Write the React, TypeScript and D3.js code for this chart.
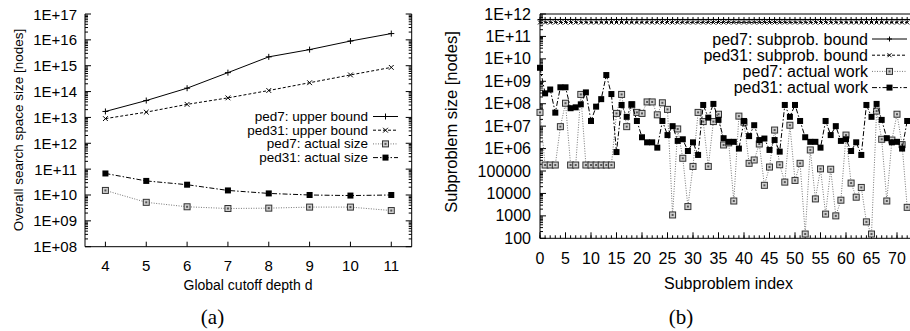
import React from "react";
import * as d3 from "d3";

// ---------- Chart (a) data ----------
const depths = [4, 5, 6, 7, 8, 9, 10, 11];
const ped7Upper = [1.7e13, 4.5e13, 1.35e14, 5.4e14, 2.2e15, 4.2e15, 9e15, 1.75e16];
const ped31Upper = [9e12, 1.6e13, 3.2e13, 5.7e13, 1.1e14, 2.2e14, 4.4e14, 8.6e14];
const ped7Actual = [1.5e10, 5.2e9, 3.5e9, 3.0e9, 3.1e9, 3.4e9, 3.4e9, 2.5e9];
const ped31Actual = [6.8e10, 3.5e10, 2.5e10, 1.5e10, 1.15e10, 1.0e10, 9.5e9, 1.0e10];
const leftYTicks = [1e8, 1e9, 1e10, 1e11, 1e12, 1e13, 1e14, 1e15, 1e16, 1e17];
const leftYLabels = ["1E+08", "1E+09", "1E+10", "1E+11", "1E+12", "1E+13", "1E+14", "1E+15", "1E+16", "1E+17"];

// ---------- Chart (b) data ----------
const ped7Bound = [
  5.7e11, 5.7e11, 5.7e11, 5.7e11, 5.7e11, 5.7e11, 5.7e11, 5.7e11, 5.7e11, 5.7e11,
  5.7e11, 5.7e11, 5.7e11, 5.7e11, 5.7e11, 5.7e11, 5.7e11, 5.7e11, 5.7e11, 5.7e11,
  5.7e11, 5.7e11, 5.7e11, 5.7e11, 5.7e11, 5.7e11, 5.7e11, 5.7e11, 5.7e11, 5.7e11,
  5.7e11, 5.7e11, 5.7e11, 5.7e11, 5.7e11, 5.7e11, 5.7e11, 5.7e11, 5.7e11, 5.7e11,
  5.7e11, 5.7e11, 5.7e11, 5.7e11, 5.7e11, 5.7e11, 5.7e11, 5.7e11, 5.7e11, 5.7e11,
  5.7e11, 5.7e11, 5.7e11, 5.7e11, 5.7e11, 5.7e11, 5.7e11, 5.7e11, 5.7e11, 5.7e11,
  5.7e11, 5.7e11, 5.7e11, 5.7e11, 5.7e11, 5.7e11, 5.7e11, 5.7e11, 5.7e11, 5.7e11,
  5.7e11, 5.7e11, 5.7e11, 5.7e11,
];
const ped31Bound = [
  4.2e11, 4.2e11, 4.2e11, 4.2e11, 4.2e11, 4.2e11, 4.2e11, 4.2e11, 4.2e11, 4.2e11,
  4.2e11, 4.2e11, 4.2e11, 4.2e11, 4.2e11, 4.2e11, 4.2e11, 4.2e11, 4.2e11, 4.2e11,
  4.2e11, 4.2e11, 4.2e11, 4.2e11, 4.2e11, 4.2e11, 4.2e11, 4.2e11, 4.2e11, 4.2e11,
  4.2e11, 4.2e11, 4.2e11, 4.2e11, 4.2e11, 4.2e11, 4.2e11, 4.2e11, 4.2e11, 4.2e11,
  4.2e11, 4.2e11, 4.2e11, 4.2e11, 4.2e11, 4.2e11, 4.2e11, 4.2e11, 4.2e11, 4.2e11,
  4.2e11, 4.2e11, 4.2e11, 4.2e11, 4.2e11, 4.2e11, 4.2e11, 4.2e11, 4.2e11, 4.2e11,
  4.2e11, 4.2e11, 4.2e11, 4.2e11, 4.2e11, 4.2e11, 4.2e11, 4.2e11, 4.2e11, 4.2e11,
  4.2e11, 4.2e11, 4.2e11, 4.2e11,
];
const ped7Work = [
  4.1e7, 1.85e5, 1.85e5, 1.85e5, 9.5e6, 1.05e8, 1.85e5, 1.85e5, 2.6e8, 1.85e5,
  1.85e5, 1.85e5, 1.85e5, 1.85e5, 1.85e5, 3.7e7, 2.6e8, 9.5e6, 9e7, 4.1e7,
  3.7e7, 1.2e8, 1.2e8, 3.2e7, 1.1e8, 5.6e7, 1.1e3, 7.5e6, 3.7e5, 2.6e3,
  1.6e5, 4.1e7, 1.6e7, 1.6e5, 1.6e7, 3.4e7, 1.45e6, 1.8e6, 4.6e3, 2.8e7,
  1.5e7, 2.2e5, 3.1e5, 1.6e6, 2.3e4, 1.5e5, 6.7e6, 1.9e5, 3.2e4, 1.1e7,
  3.8e4, 2.2e5, 155, 8.7e5, 5.7e3, 1.25e5, 1.2e3, 1.2e5, 1.0e3, 5.0e3,
  4.0e6, 2.9e4, 6.8e3, 1.85e4, 540, 155, 4.7e7, 2.6e6, 4.6e3, 2.4e6,
  3.4e7, 1.5e6, 2.4e3,
];
const ped31Work = [
  4.0e9, 2.9e8, 4.3e8, 4.0e7, 5.4e8, 5.4e8, 6.3e7, 6.9e7, 9.4e7, 3.2e8,
  1.7e7, 7.4e7, 1.6e8, 1.9e9, 2.7e8, 7.0e5, 8.8e7, 2.6e7, 9.4e7, 1.7e7,
  3.2e6, 1.9e6, 1.9e6, 1.1e6, 1.7e7, 4.0e6, 1.0e7, 2.2e6, 2.6e6, 7.8e5,
  1.9e6, 5.2e5, 8.8e7, 2.4e7, 9.8e7, 1.9e7, 2.9e6, 2.0e6, 2.0e6, 1.0e6,
  1.7e7, 3.6e6, 1.1e7, 2.4e6, 2.8e6, 8.7e5, 2.4e6, 7.3e5, 8.8e7, 2.6e7,
  8.8e7, 1.7e7, 3.2e6, 2.0e6, 2.0e6, 1.1e6, 1.7e7, 4.0e6, 1.0e7, 2.2e6,
  2.6e6, 7.8e5, 1.9e6, 5.2e5, 8.8e7, 2.6e7, 9.8e7, 1.9e7, 2.9e6, 1.9e6,
  2.0e6, 1.0e6, 1.7e7,
];
const rightYTicks = [1e2, 1e3, 1e4, 1e5, 1e6, 1e7, 1e8, 1e9, 1e10, 1e11, 1e12];
const rightYLabels = ["100", "1000", "10000", "100000", "1E+06", "1E+07", "1E+08", "1E+09", "1E+10", "1E+11", "1E+12"];
const rightXTicks = [0, 5, 10, 15, 20, 25, 30, 35, 40, 45, 50, 55, 60, 65, 70];

const FONT = "'Liberation Sans', Arial, Helvetica, sans-serif";
const SERIF = "'Liberation Serif', 'Times New Roman', serif";

type MType = "plus" | "cross" | "osq" | "fsq";

function Marker({ t, x, y, s = 6 }: { t: MType; x: number; y: number; s?: number }) {
  const h = s / 2;
  if (t === "plus")
    return (
      <path d={`M${x - h},${y}H${x + h}M${x},${y - h}V${y + h}`} stroke="#000" strokeWidth={1} fill="none" />
    );
  if (t === "cross")
    return (
      <path
        d={`M${x - h * 0.8},${y - h * 0.8}L${x + h * 0.8},${y + h * 0.8}M${x - h * 0.8},${y + h * 0.8}L${x + h * 0.8},${y - h * 0.8}`}
        stroke="#000"
        strokeWidth={1}
        fill="none"
      />
    );
  if (t === "osq")
    return (
      <g>
        <rect x={x - h} y={y - h} width={s} height={s} fill="#d0d0d0" stroke="#333" strokeWidth={1} />
        <rect x={x - 1} y={y - 1} width={2} height={2} fill="#555" />
      </g>
    );
  return <rect x={x - h} y={y - h} width={s} height={s} fill="#000" />;
}

const styles: Record<string, { dash?: string; color: string; m: MType }> = {
  p7ub: { color: "#000", m: "plus" },
  p31ub: { color: "#000", dash: "3,2", m: "cross" },
  p7a: { color: "#777", dash: "1,1.5", m: "osq" },
  p31a: { color: "#000", dash: "5,2,1.5,2", m: "fsq" },
};

function logMinor(lo: number, hi: number) {
  const out: number[] = [];
  for (let e = Math.round(Math.log10(lo)); e < Math.round(Math.log10(hi)); e++) {
    for (let k = 2; k <= 9; k++) out.push(k * Math.pow(10, e));
  }
  return out;
}

function ChartA() {
  const x = d3.scaleLinear().domain([3.5, 11.5]).range([85, 411.7]);
  const y = d3.scaleLog().domain([1e8, 1e17]).range([246.7, 14]);
  const line = d3
    .line<number>()
    .x((_, i) => x(depths[i]))
    .y((v) => y(v));
  const series = [
    { key: "p7ub", data: ped7Upper, label: "ped7: upper bound" },
    { key: "p31ub", data: ped31Upper, label: "ped31: upper bound" },
    { key: "p7a", data: ped7Actual, label: "ped7: actual size" },
    { key: "p31a", data: ped31Actual, label: "ped31: actual size" },
  ];
  const minors = logMinor(1e8, 1e17);
  const [x0, x1] = x.range();
  const [yb, yt] = y.range();
  return (
    <g>
      {/* frame */}
      <path d={`M${x0},${yt}V${yb}H${x1}V${yt}`} fill="none" stroke="#000" strokeWidth={1} />
      {leftYTicks.map((v, i) => (
        <g key={"yt" + i}>
          <line x1={x0} x2={x0 + 6} y1={y(v)} y2={y(v)} stroke="#000" />
          <line x1={x1} x2={x1 - 6} y1={y(v)} y2={y(v)} stroke="#000" />
          <text x={x0 - 8} y={y(v)} textAnchor="end" dominantBaseline="central" fontSize={15} fontFamily={FONT}>
            {leftYLabels[i]}
          </text>
        </g>
      ))}
      {minors.map((v, i) => (
        <g key={"ym" + i}>
          <line x1={x0} x2={x0 + 3} y1={y(v)} y2={y(v)} stroke="#000" />
          <line x1={x1} x2={x1 - 3} y1={y(v)} y2={y(v)} stroke="#000" />
        </g>
      ))}
      {depths.map((d) => (
        <g key={"xt" + d}>
          <line x1={x(d)} x2={x(d)} y1={yb} y2={yb - 5} stroke="#000" />
          <text x={x(d)} y={265} textAnchor="middle" dominantBaseline="central" fontSize={15} fontFamily={FONT}>
            {d}
          </text>
        </g>
      ))}
      <text x={248} y={285} textAnchor="middle" dominantBaseline="central" fontSize={14} fontFamily={FONT}>
        Global cutoff depth d
      </text>
      <text
        transform={`translate(18,130) rotate(-90)`}
        textAnchor="middle"
        dominantBaseline="central"
        fontSize={13.5}
        fontFamily={FONT}
      >
        Overall search space size [nodes]
      </text>
      <text x={212.5} y={317} textAnchor="middle" dominantBaseline="central" fontSize={21} fontFamily={SERIF}>
        (a)
      </text>
      {series.map((s) => {
        const st = styles[s.key];
        return (
          <g key={s.key}>
            <path d={line(s.data) || ""} fill="none" stroke={st.color} strokeWidth={1} strokeDasharray={st.dash} />
            {s.data.map((v, i) => (
              <Marker key={i} t={st.m} x={x(depths[i])} y={y(v)} />
            ))}
          </g>
        );
      })}
      {series.map((s, i) => {
        const st = styles[s.key];
        const ly = 116.5 + i * 13.7;
        return (
          <g key={"lg" + i}>
            <text x={368} y={ly} textAnchor="end" dominantBaseline="central" fontSize={13.5} fontFamily={FONT}>
              {s.label}
            </text>
            <line x1={373} x2={398} y1={ly} y2={ly} stroke={st.color} strokeDasharray={st.dash} />
            <Marker t={st.m} x={385.5} y={ly} />
          </g>
        );
      })}
    </g>
  );
}

function ChartB() {
  const x = d3.scaleLinear().domain([0, 80]).range([540, 948]);
  const y = d3.scaleLog().domain([1e2, 1e12]).range([238.3, 14]);
  const line = d3
    .line<number>()
    .x((_, i) => x(i))
    .y((v) => y(v));
  const series = [
    { key: "p7ub", data: ped7Bound, label: "ped7: subprob. bound" },
    { key: "p31ub", data: ped31Bound, label: "ped31: subprob. bound" },
    { key: "p7a", data: ped7Work, label: "ped7: actual work" },
    { key: "p31a", data: ped31Work, label: "ped31: actual work" },
  ];
  const minors = logMinor(1e2, 1e12);
  const x0 = 540;
  const xEnd = 910;
  const [yb, yt] = y.range();
  const minorX = d3.range(0, 73);
  return (
    <g>
      <path d={`M${xEnd},${yt}H${x0}V${yb}H${xEnd}`} fill="none" stroke="#000" strokeWidth={1} />
      {rightYTicks.map((v, i) => (
        <g key={"yt" + i}>
          <line x1={x0} x2={x0 + 6} y1={y(v)} y2={y(v)} stroke="#000" />
          <text x={x0 - 9} y={y(v)} textAnchor="end" dominantBaseline="central" fontSize={16} fontFamily={FONT}>
            {rightYLabels[i]}
          </text>
        </g>
      ))}
      {minors.map((v, i) => (
        <line key={"ym" + i} x1={x0} x2={x0 + 3} y1={y(v)} y2={y(v)} stroke="#000" />
      ))}
      {minorX.map((v) => (
        <line key={"xm" + v} x1={x(v)} x2={x(v)} y1={yb} y2={yb - 3} stroke="#000" />
      ))}
      {rightXTicks.map((v) => (
        <g key={"xt" + v}>
          <line x1={x(v)} x2={x(v)} y1={yb} y2={yb - 6} stroke="#000" />
          <text x={x(v)} y={258} textAnchor="middle" dominantBaseline="central" fontSize={16} fontFamily={FONT}>
            {v}
          </text>
        </g>
      ))}
      <text x={728.5} y={283} textAnchor="middle" dominantBaseline="central" fontSize={16} fontFamily={FONT}>
        Subproblem index
      </text>
      <text
        transform={`translate(451,122) rotate(-90)`}
        textAnchor="middle"
        dominantBaseline="central"
        fontSize={16.5}
        fontFamily={FONT}
      >
        Subproblem size [nodes]
      </text>
      <text x={681} y={317} textAnchor="middle" dominantBaseline="central" fontSize={21} fontFamily={SERIF}>
        (b)
      </text>
      {series.map((s) => {
        const st = styles[s.key];
        return (
          <g key={s.key}>
            <path d={line(s.data) || ""} fill="none" stroke={st.color} strokeWidth={1} strokeDasharray={st.dash} />
            {s.data.map((v, i) => (
              <Marker key={i} t={st.m} x={x(i)} y={y(v)} s={st.m === "osq" || st.m === "fsq" ? 6 : 5} />
            ))}
          </g>
        );
      })}
      {series.map((s, i) => {
        const st = styles[s.key];
        const ly = 39 + i * 16.2;
        return (
          <g key={"lg" + i}>
            <text x={868} y={ly} textAnchor="end" dominantBaseline="central" fontSize={16} fontFamily={FONT}>
              {s.label}
            </text>
            <line x1={872} x2={907} y1={ly} y2={ly} stroke={st.color} strokeDasharray={st.dash} />
            <Marker t={st.m} x={889.5} y={ly} s={st.m === "osq" || st.m === "fsq" ? 6 : 5} />
          </g>
        );
      })}
    </g>
  );
}

export default function App() {
  return (
    <div style={{ position: "absolute", left: 0, top: 0 }}>
      <svg width={910} height={331} viewBox="0 0 910 331" style={{ display: "block", background: "#fff" }}>
        <rect x={0} y={0} width={910} height={331} fill="#fff" />
        <ChartA />
        <ChartB />
      </svg>
    </div>
  );
}
